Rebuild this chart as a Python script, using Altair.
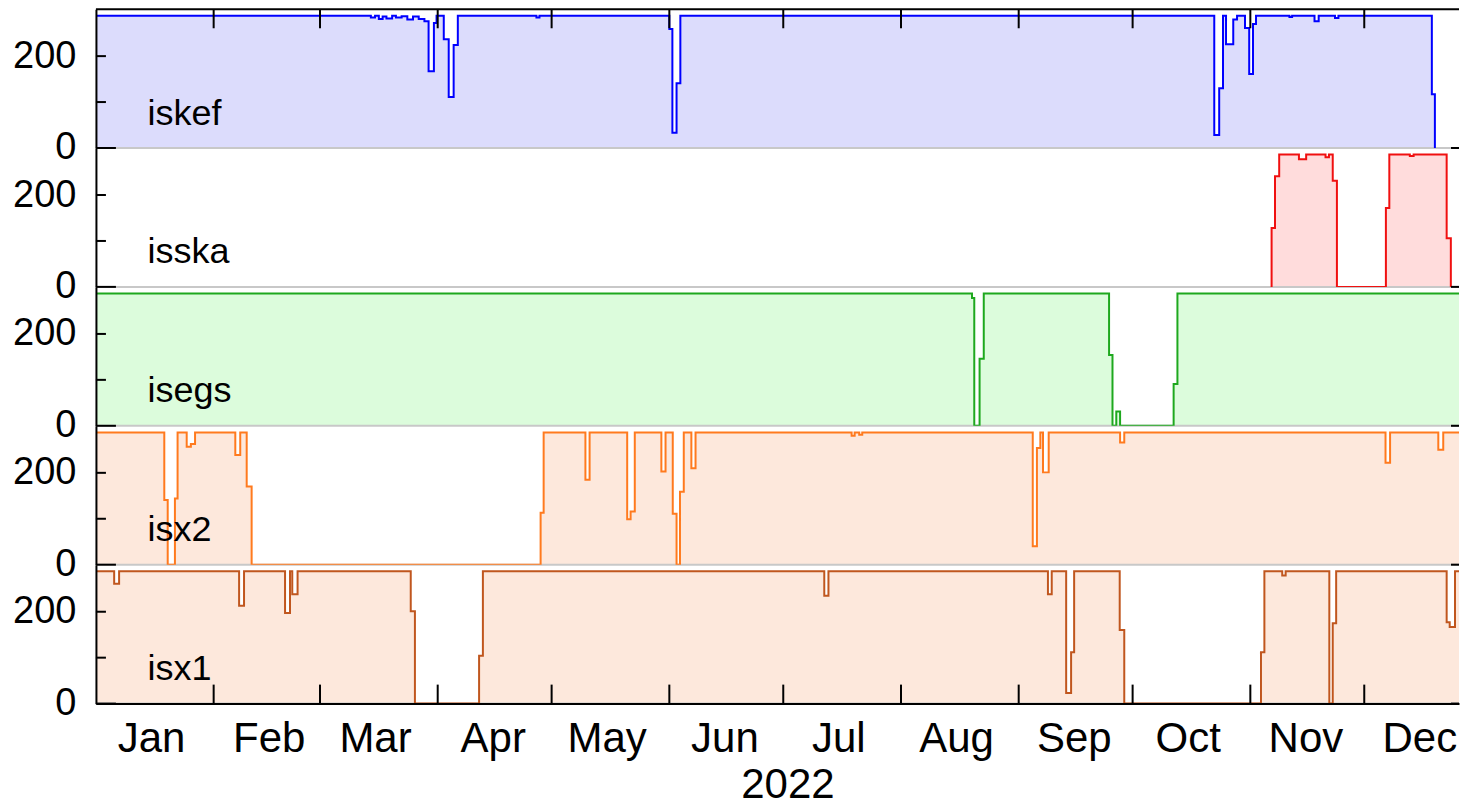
import altair as alt
import pandas as pd

FONT = "Liberation Sans"

# ---- data: change points (day of 2022, value) ----
iskef_day = [0, 72.4, 73.5, 74.5, 75.5, 76.5, 78.0, 79.0, 80.5, 82.0, 83.5, 85.0, 86.5,
             87.6, 89.0, 89.7, 91.6, 92.9, 94.2, 95.3, 116.0, 116.8,
             151.0, 151.8, 152.9, 153.9, 294.5, 295.8, 296.8, 297.6, 299.5, 300.5,
             302.6, 303.7, 304.7, 305.5, 314.3, 315.0, 320.9, 322.0, 326.3, 327.2,
             351.8, 352.6]
iskef_val = [288, 284, 288, 281, 286, 282, 288, 284, 287, 280, 286, 281, 276,
             167, 272, 288, 237, 111, 224, 288, 284, 288,
             259, 33, 141, 288, 28, 130, 288, 226, 280, 288,
             261, 161, 270, 288, 285, 288, 276, 288, 283, 288,
             117, 0]

isska_day = [309.5, 309.6, 310.5, 311.6, 316.8, 318.7, 323.8, 324.7, 325.7, 326.8,
             339.7, 340.6, 346.0, 347.0, 355.7, 356.8]
isska_val = [0, 128, 241, 288, 278, 288, 282, 288, 231, 0,
             172, 288, 285, 288, 106, 0]

isegs_day = [0, 230.7, 231.3, 232.7, 233.8, 266.8, 267.7, 268.7, 269.7, 283.8, 284.8, 365]
isegs_val = [288, 278, 0, 146, 288, 154, 0, 31, 0, 91, 288, 288]

isx2_day = [0, 18.0, 18.9, 20.8, 21.5, 23.9, 25.0, 26.1, 36.7, 38.0, 39.7, 41.0,
            117.1, 117.9, 128.9, 130.0, 139.9, 140.8, 141.9, 148.9, 150.0, 151.9,
            152.9, 153.8, 154.8, 156.8, 157.9, 199.0, 199.8, 201.0, 201.8,
            246.7, 247.8, 248.7, 249.4, 250.9, 269.7, 270.8, 339.6, 340.8,
            353.5, 354.8, 365]
isx2_val = [288, 141, 0, 144, 288, 257, 263, 288, 239, 288, 170, 0,
            113, 288, 185, 288, 99, 116, 288, 203, 288, 111,
            0, 159, 288, 210, 288, 281, 288, 283, 288,
            40, 254, 288, 201, 288, 266, 288, 222, 288,
            250, 288, 288]

isx1_day = [0, 4.8, 6.1, 37.7, 39.0, 49.8, 51.1, 51.7, 53.1, 82.9, 84.0,
            100.9, 101.9, 191.8, 192.9, 250.7, 251.7, 255.5, 256.8, 257.6,
            269.6, 270.8, 306.8, 307.7, 312.4, 313.3, 324.8, 325.7, 326.6,
            355.7, 356.5, 357.9, 365]
isx1_val = [288, 261, 288, 213, 288, 197, 288, 238, 288, 201, 0,
            104, 288, 235, 288, 238, 288, 23, 112, 288,
            160, 0, 112, 288, 279, 288, 0, 175, 288,
            177, 167, 288, 288]

series_names = ["iskef", "isska", "isegs", "isx2", "isx1"]
series_days = [iskef_day, isska_day, isegs_day, isx2_day, isx1_day]
series_vals = [iskef_val, isska_val, isegs_val, isx2_val, isx1_val]
line_colors = ["#0000ff", "#f01010", "#1ea81e", "#ff7a1e", "#c0561e"]
fill_colors = ["#dcdcfc", "#ffdcdc", "#dcfcdc", "#fde8dc", "#fde8dc"]

month_starts = ["2022-02-01", "2022-03-01", "2022-04-01", "2022-05-01", "2022-06-01",
                "2022-07-01", "2022-08-01", "2022-09-01", "2022-10-01", "2022-11-01",
                "2022-12-01"]
month_label_days = [15, 15, 15, 15, 15, 15, 15, 15, 15, 15, 15, 15]
year_title = "2022"
y_tick_labels = [0, 200]
y_minor_ticks = [100, 200]

W = 1364
H = 138.8
BASE = pd.Timestamp("2022-01-01")


def iso(days):
    return [(BASE + pd.Timedelta(days=float(d))).strftime("%Y-%m-%dT%H:%M:%SZ") for d in days]


xscale = alt.Scale(type="utc", nice=False,
                   domain=[alt.DateTime(year=2022, month=1, date=1, utc=True),
                           alt.DateTime(year=2022, month=12, date=25, hours=22, minutes=48, utc=True)])
yscale = alt.Scale(domain=[0, 302], nice=False, zero=True)

x_axis = alt.Axis(
    values=[alt.DateTime(year=2022, month=m + 1, date=d, hours=12, utc=True)
            for m, d in enumerate(month_label_days)],
    labelExpr="utcFormat(datum.value, '%b')",
    ticks=False, grid=False, labelPadding=15, labelFont=FONT, labelFontSize=42,
    labelColor="black", labelFlush=False, labelOverlap=False,
    domainColor="black", domainWidth=2, zindex=1,
    title=year_title, titleFont=FONT, titleFontSize=42, titleFontWeight="normal",
    titleColor="black", titlePadding=5, titleX=692, titleAlign="center")

y_axis = alt.Axis(values=y_tick_labels, ticks=False, grid=False, labelPadding=20,
                  labelFont=FONT, labelFontSize=38, labelColor="black",
                  domainColor="black", domainWidth=2, title=None, zindex=1)

panels = []
for i, name in enumerate(series_names):
    last = i == len(series_names) - 1
    first = i == 0
    X = alt.X("t:T", scale=xscale, axis=x_axis if last else None, title=year_title if last else None)
    Y = alt.Y("v:Q", scale=yscale, axis=y_axis, title=None)
    df = pd.DataFrame({"t": iso(series_days[i]), "v": series_vals[i]})

    area = alt.Chart(df).mark_area(interpolate="step-after", color=fill_colors[i],
                                   opacity=1, clip=True).encode(x=X, y=Y)
    zero = alt.Chart(pd.DataFrame({"v": [0]})).mark_rule(
        color="#c8c8c8", strokeWidth=2).encode(y=Y)
    line = alt.Chart(df).mark_line(interpolate="step-after", color=line_colors[i],
                                   strokeWidth=2, clip=True).encode(x=X, y=Y)
    label = alt.Chart(pd.DataFrame({"t": iso([13.6]), "v": [51], "s": [name]})).mark_text(
        align="left", baseline="alphabetic", font=FONT, fontSize=36, color="black"
    ).encode(x=X, y=Y, text="s:N")
    tick0 = alt.Chart(pd.DataFrame({"v": [0]})).mark_rule(color="black", strokeWidth=2).encode(
        y=Y, x=alt.value(0), x2=alt.value(20))
    tickm = alt.Chart(pd.DataFrame({"v": y_minor_ticks})).mark_rule(color="black", strokeWidth=2).encode(
        y=Y, x=alt.value(0), x2=alt.value(10))
    tickr = alt.Chart(pd.DataFrame({"v": [0]})).mark_rule(color="black", strokeWidth=2).encode(
        y=Y, x=alt.value(W - 8), x2=alt.value(W))
    layers = [area, zero, line, label, tick0, tickm, tickr]
    ms = pd.DataFrame({"t": [s + "T00:00:00Z" for s in month_starts]})
    if first:
        border = alt.Chart(pd.DataFrame({"k": [0]})).mark_rule(color="black", strokeWidth=2).encode(
            y=alt.value(0))
        mt = alt.Chart(ms).mark_rule(color="black", strokeWidth=2).encode(
            x=X, y=alt.value(0), y2=alt.value(19))
        layers += [border, mt]
    if last:
        mb = alt.Chart(ms).mark_rule(color="black", strokeWidth=2).encode(
            x=X, y=alt.value(H), y2=alt.value(H - 19))
        layers += [mb]
    panels.append(alt.layer(*layers).properties(width=W, height=H))

chart = alt.vconcat(*panels, spacing=0, bounds="flush").properties(
    padding={"left": 4, "top": 0, "right": 0, "bottom": 0}
).configure_view(stroke=None)

chart.save("out.html", embed_options={"renderer": "svg", "actions": False})
